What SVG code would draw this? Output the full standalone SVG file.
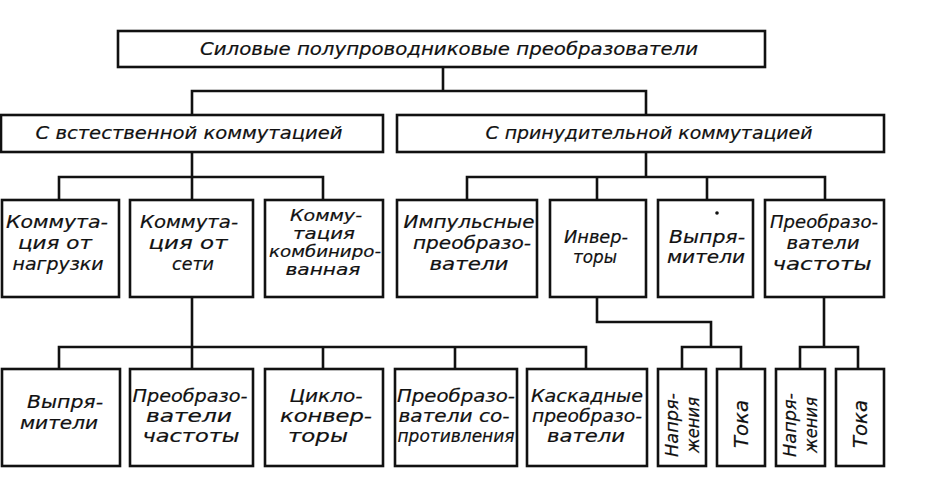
<svg xmlns="http://www.w3.org/2000/svg" width="935" height="484" viewBox="0 0 935 484">
<style>
.b{fill:#fff;stroke:#111;stroke-width:2.6}
.c{fill:none;stroke:#111;stroke-width:2.6;stroke-linecap:square}
text{font-family:"DejaVu Sans","Liberation Sans",sans-serif;font-style:italic;fill:#111;stroke:#111;stroke-width:0.2;text-anchor:middle;font-size:17.5px}
.big{font-size:18px}
.s{font-size:15.5px}
.r{font-size:18px}
.t{font-size:19px}
</style>
<rect width="935" height="484" fill="#fff"/>
<g id="connectors">
<path class="c" d="M443 67V91M192 91H646M192 91V115M646 91V115"/>
<path class="c" d="M192 152V200M59 177H323M59 177V200M323 177V200"/>
<path class="c" d="M646 152V177M467 177H825M467 177V200M597 177V200M707 177V200M825 177V200"/>
<path class="c" d="M192 297V369M59 347H586M59 347V369M323 347V369M455 347V369M586 347V369"/>
<path class="c" d="M597 297V322H711V347M682 347H741M682 347V369M741 347V369"/>
<path class="c" d="M824 297V347M800 347H858M800 347V369M858 347V369"/>
</g>
<g id="root"><rect class="b" x="118" y="31" width="647" height="36"/>
<text class="big" x="449" y="55" textLength="498" lengthAdjust="spacingAndGlyphs">Силовые полупроводниковые преобразователи</text></g>
<g id="natural"><rect class="b" x="1" y="115" width="382" height="37"/>
<text class="big" x="189" y="139" textLength="307" lengthAdjust="spacingAndGlyphs">С встественной коммутацией</text></g>
<g id="forced"><rect class="b" x="397" y="115" width="487" height="37"/>
<text class="big" x="649" y="139" textLength="327" lengthAdjust="spacingAndGlyphs">С принудительной коммутацией</text></g>
<g id="load"><rect class="b" x="2" y="200" width="117" height="97"/>
<text x="57" y="228" textLength="102" lengthAdjust="spacingAndGlyphs">Коммута-</text>
<text x="55" y="249" textLength="74" lengthAdjust="spacingAndGlyphs">ция от</text>
<text x="58" y="270" textLength="91" lengthAdjust="spacingAndGlyphs">нагрузки</text></g>
<g id="network"><rect class="b" x="130" y="200" width="123" height="97"/>
<text x="189" y="228" textLength="98" lengthAdjust="spacingAndGlyphs">Коммута-</text>
<text x="188" y="249" textLength="79" lengthAdjust="spacingAndGlyphs">ция от</text>
<text x="193" y="270" textLength="42" lengthAdjust="spacingAndGlyphs">сети</text></g>
<g id="combined"><rect class="b" x="265" y="200" width="118" height="97"/>
<text class="s" x="326" y="221" textLength="72" lengthAdjust="spacingAndGlyphs">Комму-</text>
<text class="s" x="324" y="239" textLength="62" lengthAdjust="spacingAndGlyphs">тация</text>
<text class="s" x="325" y="257" textLength="112" lengthAdjust="spacingAndGlyphs">комбиниро-</text>
<text class="s" x="323" y="275" textLength="75" lengthAdjust="spacingAndGlyphs">ванная</text></g>
<g id="pulse"><rect class="b" x="397" y="200" width="140" height="97"/>
<text x="469" y="228" textLength="131" lengthAdjust="spacingAndGlyphs">Импульсные</text>
<text x="472" y="249" textLength="118" lengthAdjust="spacingAndGlyphs">преобразо-</text>
<text x="469" y="270" textLength="79" lengthAdjust="spacingAndGlyphs">ватели</text></g>
<g id="inverters"><rect class="b" x="550" y="200" width="96" height="97"/>
<text x="596" y="243" textLength="64" lengthAdjust="spacingAndGlyphs">Инвер-</text>
<text x="595" y="263" textLength="44" lengthAdjust="spacingAndGlyphs">торы</text></g>
<g id="rectifiers1"><rect class="b" x="658" y="200" width="95" height="97"/>
<circle cx="717" cy="213" r="1.8" fill="#111"/>
<text x="707" y="243" textLength="76" lengthAdjust="spacingAndGlyphs">Выпря-</text>
<text x="706" y="263" textLength="78" lengthAdjust="spacingAndGlyphs">мители</text></g>
<g id="freq1"><rect class="b" x="765" y="200" width="119" height="97"/>
<text x="824" y="228" textLength="108" lengthAdjust="spacingAndGlyphs">Преобразо-</text>
<text x="823" y="249" textLength="73" lengthAdjust="spacingAndGlyphs">ватели</text>
<text x="822" y="270" textLength="99" lengthAdjust="spacingAndGlyphs">частоты</text></g>
<g id="rectifiers2"><rect class="b" x="2" y="369" width="118" height="97"/>
<text x="65" y="408" textLength="76" lengthAdjust="spacingAndGlyphs">Выпря-</text>
<text x="59" y="429" textLength="78" lengthAdjust="spacingAndGlyphs">мители</text></g>
<g id="freq2"><rect class="b" x="130" y="369" width="123" height="97"/>
<text x="190" y="402" textLength="115" lengthAdjust="spacingAndGlyphs">Преобразо-</text>
<text x="189" y="422" textLength="86" lengthAdjust="spacingAndGlyphs">ватели</text>
<text x="191" y="442" textLength="97" lengthAdjust="spacingAndGlyphs">частоты</text></g>
<g id="cyclo"><rect class="b" x="265" y="369" width="118" height="97"/>
<text x="326" y="402" textLength="73" lengthAdjust="spacingAndGlyphs">Цикло-</text>
<text x="326" y="422" textLength="92" lengthAdjust="spacingAndGlyphs">конвер-</text>
<text x="318" y="442" textLength="60" lengthAdjust="spacingAndGlyphs">торы</text></g>
<g id="resist"><rect class="b" x="395" y="369" width="122" height="97"/>
<text x="456" y="402" textLength="118" lengthAdjust="spacingAndGlyphs">Преобразо-</text>
<text x="454" y="422" textLength="111" lengthAdjust="spacingAndGlyphs">ватели со-</text>
<text x="456" y="442" textLength="117" lengthAdjust="spacingAndGlyphs">противления</text></g>
<g id="cascade"><rect class="b" x="527" y="369" width="120" height="97"/>
<text x="587" y="402" textLength="112" lengthAdjust="spacingAndGlyphs">Каскадные</text>
<text x="587" y="422" textLength="110" lengthAdjust="spacingAndGlyphs">преобразо-</text>
<text x="586" y="442" textLength="78" lengthAdjust="spacingAndGlyphs">ватели</text></g>
<g id="inv-voltage"><rect class="b" x="658" y="369" width="48" height="97"/>
<g transform="translate(682 425) rotate(-90)"><text class="r" x="0" y="-4" textLength="64" lengthAdjust="spacingAndGlyphs">Напря-</text><text class="r" x="0" y="17" textLength="56" lengthAdjust="spacingAndGlyphs">жения</text></g></g>
<g id="inv-current"><rect class="b" x="717" y="369" width="48" height="97"/>
<text class="t" transform="translate(741 424) rotate(-90)" x="0" y="7" textLength="48" lengthAdjust="spacingAndGlyphs">Тока</text></g>
<g id="freq-voltage"><rect class="b" x="776" y="369" width="49" height="97"/>
<g transform="translate(800 425) rotate(-90)"><text class="r" x="0" y="-4" textLength="64" lengthAdjust="spacingAndGlyphs">Напря-</text><text class="r" x="0" y="17" textLength="56" lengthAdjust="spacingAndGlyphs">жения</text></g></g>
<g id="freq-current"><rect class="b" x="836" y="369" width="48" height="97"/>
<text class="t" transform="translate(860 424) rotate(-90)" x="0" y="7" textLength="48" lengthAdjust="spacingAndGlyphs">Тока</text></g>
</svg>
